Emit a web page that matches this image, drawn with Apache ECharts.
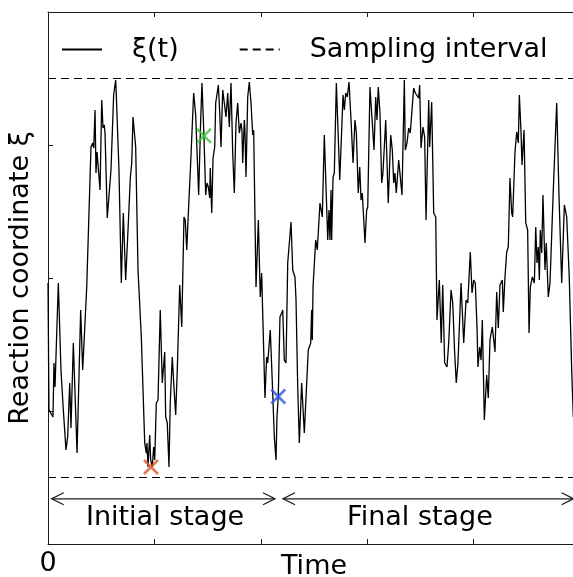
<!DOCTYPE html>
<html>
<head>
<meta charset="utf-8">
<script src="https://cdn.jsdelivr.net/npm/echarts@6/dist/echarts.min.js"></script>
<style>
html, body { margin: 0; padding: 0; background: #fff; }
#chart { width: 573px; height: 577px; }
</style>
</head>
<body>
<div id="chart"></div>
<script>
// trajectory xi(t) (time in tick units, xi in axis units 0..4)
var timeVals = [
  0.000, 0.009, 0.047, 0.056, 0.066, 0.097, 0.122, 0.144, 0.169, 0.185, 0.204, 0.216, 0.238, 0.273, 0.307, 0.326,
  0.364, 0.404, 0.420, 0.430, 0.442, 0.451, 0.461, 0.489, 0.505, 0.517, 0.529, 0.536, 0.557, 0.567, 0.592, 0.617,
  0.627, 0.636, 0.642, 0.667, 0.689, 0.708, 0.730, 0.755, 0.774, 0.787, 0.799, 0.824, 0.846, 0.877, 0.909, 0.924,
  0.930, 0.940, 0.956, 0.965, 0.980, 0.993, 1.003, 1.018, 1.034, 1.055, 1.074, 1.097, 1.106, 1.121, 1.137, 1.149,
  1.168, 1.181, 1.200, 1.215, 1.238, 1.257, 1.278, 1.290, 1.304, 1.319, 1.341, 1.369, 1.388, 1.400, 1.416, 1.435,
  1.447, 1.466, 1.482, 1.494, 1.507, 1.520, 1.525, 1.539, 1.551, 1.567, 1.576, 1.588, 1.601, 1.614, 1.626, 1.642,
  1.657, 1.673, 1.689, 1.704, 1.720, 1.736, 1.751, 1.767, 1.783, 1.798, 1.814, 1.823, 1.830, 1.845, 1.851, 1.861,
  1.877, 1.892, 1.908, 1.924, 1.933, 1.955, 1.977, 1.995, 2.008, 2.039, 2.055, 2.065, 2.089, 2.112, 2.127, 2.143,
  2.152, 2.164, 2.180, 2.196, 2.206, 2.221, 2.237, 2.253, 2.284, 2.300, 2.321, 2.331, 2.347, 2.362, 2.384, 2.409,
  2.446, 2.469, 2.478, 2.484, 2.491, 2.516, 2.531, 2.556, 2.578, 2.597, 2.616, 2.629, 2.641, 2.650, 2.660, 2.666,
  2.679, 2.691, 2.710, 2.728, 2.742, 2.754, 2.773, 2.785, 2.798, 2.813, 2.829, 2.848, 2.867, 2.885, 2.898, 2.916,
  2.930, 2.942, 2.954, 2.979, 2.995, 3.005, 3.026, 3.048, 3.064, 3.080, 3.092, 3.104, 3.120, 3.136, 3.148, 3.174,
  3.198, 3.221, 3.236, 3.249, 3.261, 3.273, 3.296, 3.327, 3.349, 3.358, 3.374, 3.390, 3.405, 3.421, 3.437, 3.452,
  3.468, 3.484, 3.493, 3.506, 3.524, 3.540, 3.553, 3.578, 3.587, 3.606, 3.625, 3.644, 3.656, 3.678, 3.696, 3.710,
  3.728, 3.750, 3.766, 3.788, 3.804, 3.822, 3.837, 3.853, 3.882, 3.907, 3.929, 3.945, 3.969, 3.985, 4.001, 4.016,
  4.032, 4.041, 4.057, 4.070, 4.082, 4.101, 4.123, 4.138, 4.154, 4.176, 4.201, 4.217, 4.232, 4.248, 4.270, 4.279,
  4.295, 4.311, 4.326, 4.342, 4.358, 4.367, 4.389, 4.405, 4.420, 4.430, 4.445, 4.455, 4.474, 4.490, 4.508, 4.521,
  4.533, 4.552, 4.571, 4.584, 4.596, 4.608, 4.618, 4.627, 4.640, 4.652, 4.671, 4.683, 4.702, 4.718, 4.749, 4.781,
  4.803, 4.828, 4.853, 4.875, 4.899, 4.922, 4.937
];
var xiVals = [
  1.962, 1.008, 0.955, 1.361, 1.180, 1.962, 1.308, 1.008, 0.707, 0.805, 1.211, 0.872, 1.511, 0.684, 1.759, 1.308,
  1.932, 2.985, 3.015, 2.977, 3.263, 2.789, 2.947, 2.662, 3.338, 3.128, 3.150, 3.090, 2.451, 2.459, 2.812, 3.376,
  3.391, 3.489, 3.376, 2.812, 1.962, 2.489, 1.985, 2.414, 2.759, 2.865, 3.211, 2.985, 2.060, 1.556, 0.759, 0.684,
  0.759, 0.579, 0.820, 0.632, 0.579, 0.729, 0.632, 1.060, 1.083, 1.759, 1.211, 1.444, 0.955, 0.910, 0.579, 1.060,
  1.406, 1.218, 0.970, 1.308, 1.947, 1.632, 2.459, 2.436, 2.211, 2.489, 2.865, 3.391, 3.226, 3.211, 2.624, 3.188,
  3.466, 3.060, 2.624, 2.714, 2.684, 2.602, 2.827, 2.489, 2.902, 2.985, 3.316, 3.323, 3.451, 3.241, 2.985, 3.414,
  3.316, 3.211, 3.391, 3.135, 3.466, 2.940, 2.639, 3.165, 3.316, 3.090, 3.165, 3.113, 2.865, 3.188, 3.113, 2.759,
  3.361, 3.474, 3.316, 3.075, 3.113, 1.932, 2.436, 1.857, 2.038, 1.098, 1.406, 1.361, 1.609, 1.135, 0.805, 0.632,
  0.955, 1.105, 1.707, 1.737, 1.759, 1.383, 1.361, 2.113, 2.421, 2.060, 2.008, 1.835, 1.180, 0.759, 1.211, 0.835,
  1.459, 1.511, 1.759, 1.534, 1.932, 2.286, 2.211, 2.564, 2.459, 3.075, 2.609, 2.286, 2.511, 2.286, 2.662, 2.286,
  2.759, 2.789, 3.466, 3.060, 2.737, 2.985, 3.376, 3.263, 3.391, 3.361, 3.474, 3.188, 2.865, 3.188, 3.090, 2.639,
  2.835, 2.586, 2.639, 2.263, 2.511, 2.534, 3.436, 3.165, 2.962, 3.361, 3.188, 3.436, 3.241, 2.714, 2.789, 3.188,
  2.564, 3.075, 2.962, 2.714, 2.789, 2.639, 2.887, 2.624, 3.489, 2.962, 3.015, 3.128, 3.090, 3.263, 3.429, 3.391,
  3.376, 3.353, 3.451, 2.977, 3.135, 3.060, 2.436, 3.338, 2.985, 3.323, 2.489, 2.459, 1.684, 1.985, 1.511, 1.947,
  1.361, 1.331, 1.511, 1.910, 1.812, 1.436, 1.211, 1.361, 1.962, 1.511, 1.835, 1.812, 2.195, 1.887, 1.985, 1.962,
  1.632, 1.331, 1.481, 1.383, 1.684, 0.932, 1.271, 1.098, 1.534, 1.632, 1.444, 1.895, 1.624, 1.947, 1.985, 1.744,
  2.008, 2.195, 2.233, 2.752, 2.489, 2.459, 2.947, 3.098, 3.015, 3.376, 3.113, 2.850, 3.113, 2.414, 2.361, 1.586,
  1.932, 2.008, 1.962, 2.383, 2.113, 2.233, 1.985, 2.361, 2.188, 2.624, 2.060, 2.263, 1.857, 1.962, 2.662, 3.316,
  2.609, 1.962, 2.549, 2.459, 2.008, 1.308, 0.955
];

// sampling interval bounds
var samplingBounds = [0.5, 3.5];

// highlighted configurations (crosses)
var markTimes = [0.968, 1.466, 2.164];
var markXi = [0.579, 3.068, 1.109];
var markColors = ['#e0521f', '#35c435', '#2857e0'];

// stage arrows
var stageNames = ['Initial stage', 'Final stage'];
var stageStart = [0.035, 2.209];
var stageEnd = [2.133, 4.940];
var stageLabelT = [1.100, 3.496];
var arrowXi = 0.34;
var stageLabelXi = 0.195;

var FONT = 'DejaVu Sans';
var INK = '#1a1a1a';

var chart = echarts.init(document.getElementById('chart'));

var lineData = timeVals.map(function (t, i) { return [t, xiVals[i]]; });
var stageData = stageNames.map(function (n, i) {
  return [stageStart[i], stageEnd[i], arrowXi, stageLabelT[i], stageLabelXi];
});

var option = {
  animation: false,
  backgroundColor: '#fff',
  grid: { left: 48, right: -7, top: 12, bottom: 33, containLabel: false, outerBoundsMode: 'none' },
  legend: {
    left: 61,
    top: 36,
    padding: 0,
    itemWidth: 40,
    itemHeight: 14,
    itemGap: 60,
    selectedMode: false,
    itemStyle: { opacity: 0 },
    data: [
      { name: 'ξ(t)' },
      { name: 'Sampling interval' }
    ],
    textStyle: { fontFamily: FONT, fontSize: 27, color: '#000', padding: [0, 0, 0, 25] }
  },
  xAxis: [{
    type: 'value',
    min: 0,
    max: 5,
    interval: 1,
    name: 'Time',
    nameLocation: 'middle',
    nameGap: 9,
    nameMoveOverlap: false,
    nameTextStyle: { fontFamily: FONT, fontSize: 27, color: '#000', verticalAlign: 'top' },
    axisLine: { show: true, lineStyle: { color: INK, width: 1 } },
    axisTick: { show: true, inside: true, length: 5, lineStyle: { color: INK } },
    axisLabel: {
      show: true, margin: 6, fontFamily: FONT, fontSize: 27, color: '#000',
      formatter: function (v) { return v === 0 ? '0' : ''; }
    },
    splitLine: { show: false }
  }, {
    type: 'value',
    position: 'top',
    min: 0,
    max: 5,
    interval: 1,
    axisLine: { show: true, lineStyle: { color: INK, width: 1 } },
    axisTick: { show: true, inside: true, length: 5, lineStyle: { color: INK } },
    axisLabel: { show: false },
    splitLine: { show: false }
  }],
  yAxis: {
    type: 'value',
    min: 0,
    max: 4,
    interval: 1,
    name: 'Reaction coordinate ξ',
    nameLocation: 'middle',
    nameGap: 14,
    nameTextStyle: { fontFamily: FONT, fontSize: 27, color: '#000' },
    axisLine: { show: true, lineStyle: { color: INK, width: 1 } },
    axisTick: { show: true, inside: true, length: 5, lineStyle: { color: INK } },
    axisLabel: { show: false },
    splitLine: { show: false }
  },
  series: [{
    name: 'ξ(t)',
    type: 'line',
    data: lineData,
    symbol: 'none',
    showSymbol: false,
    lineStyle: { color: '#000', width: 1.3 },
    itemStyle: { color: '#000' },
    z: 3
  }, {
    name: 'Sampling interval',
    type: 'line',
    data: [],
    symbol: 'none',
    lineStyle: { color: '#000', width: 1.2, type: [8, 5] },
    itemStyle: { color: '#000' },
    markLine: {
      silent: true,
      symbol: 'none',
      label: { show: false },
      lineStyle: { color: '#000', width: 1.2, type: [8, 5] },
      data: samplingBounds.map(function (v) { return { yAxis: v }; })
    }
  }, {
    name: 'marks',
    type: 'scatter',
    symbol: 'path://M0,0L10,10M10,0L0,10',
    symbolSize: 14,
    data: markTimes.map(function (t, i) {
      return {
        value: [t, markXi[i]],
        itemStyle: { color: 'transparent', borderColor: markColors[i], borderWidth: 2.5 }
      };
    }),
    z: 5
  }, {
    name: 'stages',
    type: 'custom',
    data: stageData,
    clip: false,
    renderItem: function (params, api) {
      var a = api.coord([api.value(0), api.value(2)]);
      var b = api.coord([api.value(1), api.value(2)]);
      var c = api.coord([api.value(3), api.value(4)]);
      var w = 12, h = 6;
      var st = { stroke: INK, fill: 'none', lineWidth: 1.3 };
      return {
        type: 'group',
        children: [
          { type: 'line', shape: { x1: a[0], y1: a[1], x2: b[0], y2: b[1] }, style: st },
          { type: 'polyline', shape: { points: [[a[0] + w, a[1] - h], [a[0], a[1]], [a[0] + w, a[1] + h]] }, style: st },
          { type: 'polyline', shape: { points: [[b[0] - w, b[1] - h], [b[0], b[1]], [b[0] - w, b[1] + h]] }, style: st },
          {
            type: 'text', x: c[0], y: c[1],
            style: {
              text: stageNames[params.dataIndex], fill: '#000',
              fontSize: 27, fontFamily: FONT, align: 'center', verticalAlign: 'middle'
            }
          }
        ]
      };
    }
  }]
};

chart.setOption(option);
</script>
</body>
</html>
